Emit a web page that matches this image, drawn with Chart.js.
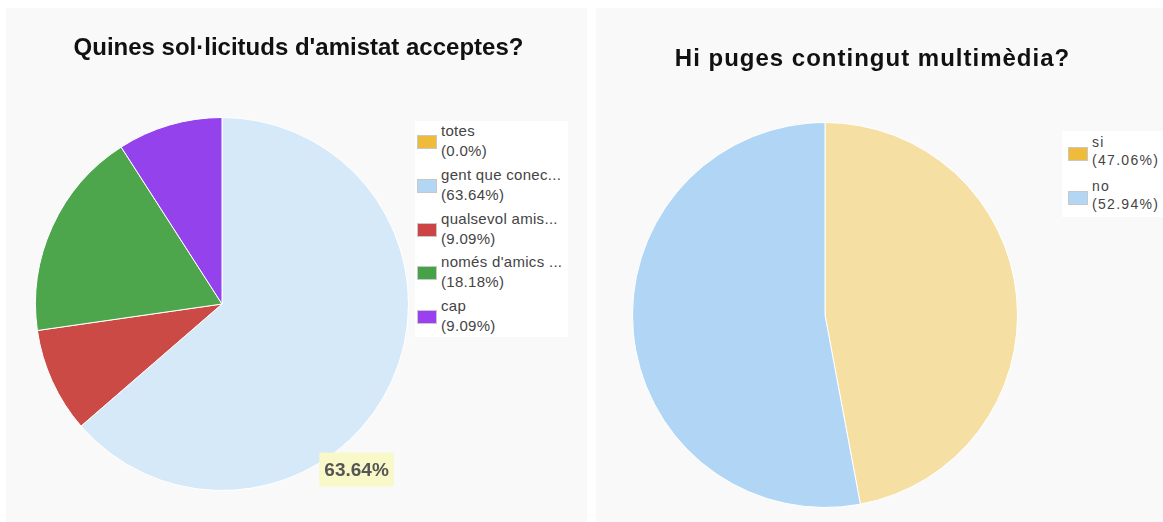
<!DOCTYPE html>
<html>
<head>
<meta charset="utf-8">
<script src="https://cdn.jsdelivr.net/npm/chart.js@4/dist/chart.umd.min.js"></script>
<style>
  body { margin: 0; background: #fff; font-family: "Liberation Sans", Arial, sans-serif; }
  .panel { position: absolute; top: 8px; height: 514px; background: #f9f9f9; }
  .panel canvas { position: absolute; left: 0; top: 0; }
  .title { position: absolute; text-align: center; font-weight: bold; font-size: 24px; line-height: 30px; color: #111; }
  .legend { position: absolute; background: #fff; }
  .entry { position: absolute; left: 0; right: 0; color: #444; white-space: nowrap; }
  .swatch { position: absolute; width: 20px; height: 14px; border: 1px solid #c8c8c8; box-sizing: border-box; }
</style>
</head>
<body>

<div class="panel" id="panelA" style="left:6px; width:581px;"><canvas id="chartA"></canvas></div>
<div class="panel" id="panelB" style="left:596px; width:567px;"><canvas id="chartB"></canvas></div>

<div class="title" style="left:0; width:597px; top:32px;">Quines sol·licituds d'amistat acceptes?</div>
<div class="title" style="left:597px; width:551px; top:43px; letter-spacing:1px;">Hi puges contingut multimèdia?</div>

<div class="legend" id="legendA" style="left:415px; top:121px; width:153px; height:216px;"></div>
<div class="legend" id="legendB" style="left:1062px; top:131px; width:101px; height:86px;"></div>

<script>
// sol·licituds d'amistat
const friendLabels = ["totes", "gent que conec...", "qualsevol amis...", "només d'amics ...", "cap"];
const friendPct = [0, 63.64, 9.09, 18.18, 9.09];
const friendSlice = ["#f5dfa2", "#d6e9f9", "#cc4a45", "#4da64b", "#9342ec"];
const friendSwatch = ["#eebc3a", "#b3d6f5", "#cc4444", "#46a246", "#9a40f0"];

// contingut multimèdia
const mediaLabels = ["si", "no"];
const mediaPct = [47.06, 52.94];
const mediaSlice = ["#f5dfa2", "#b1d6f5"];
const mediaSwatch = ["#eebc3a", "#b3d6f5"];

function fmtPct(v) {
  return "(" + (v === 0 ? "0.0" : v.toFixed(2)) + "%)";
}

function buildLegend(id, labels, values, swatches, opt) {
  const box = document.getElementById(id);
  labels.forEach((name, i) => {
    const e = document.createElement("div");
    e.className = "entry";
    e.style.top = (opt.top + opt.step * i) + "px";
    e.style.fontSize = opt.fontSize + "px";
    e.style.lineHeight = opt.lineHeight + "px";
    e.style.paddingLeft = opt.textLeft + "px";
    e.style.letterSpacing = opt.spacing + "px";
    e.innerHTML = `<div class="swatch" style="left:${opt.swLeft}px; top:${opt.swTop}px; background:${swatches[i]}"></div>${name}<br>${fmtPct(values[i])}`;
    box.appendChild(e);
  });
}

buildLegend("legendA", friendLabels, friendPct, friendSwatch,
  { top: 0, step: 43.8, fontSize: 15, lineHeight: 20, textLeft: 26, swLeft: 2, swTop: 14, spacing: 0.3 });
buildLegend("legendB", mediaLabels, mediaPct, mediaSwatch,
  { top: 2, step: 44, fontSize: 14, lineHeight: 18, textLeft: 30, swLeft: 6, swTop: 14, spacing: 1.3 });

// value box for the hovered slice
const sliceLabel = {
  id: "sliceLabel",
  afterDatasetsDraw(chart, args, opts) {
    if (opts.index == null) return;
    const arc = chart.getDatasetMeta(0).data[opts.index];
    const v = chart.data.datasets[0].data[opts.index];
    const a = opts.angle * Math.PI / 180;
    const cx = arc.x + Math.cos(a) * arc.outerRadius * opts.dist;
    const cy = arc.y + Math.sin(a) * arc.outerRadius * opts.dist;
    const ctx = chart.ctx;
    ctx.save();
    ctx.font = "bold 19px 'Liberation Sans', Arial, sans-serif";
    const text = v.toFixed(2) + "%";
    const w = ctx.measureText(text).width + 10;
    const h = 34;
    ctx.fillStyle = "#f8f8c8";
    ctx.fillRect(cx - w / 2, cy - h / 2, w, h);
    ctx.fillStyle = "#555555";
    ctx.textAlign = "center";
    ctx.textBaseline = "middle";
    ctx.fillText(text, cx, cy + 1);
    ctx.restore();
  }
};

function makePie(id, labels, values, colors, padding, labelOpts) {
  return new Chart(document.getElementById(id), {
    type: "pie",
    data: {
      labels,
      datasets: [{
        data: values,
        backgroundColor: colors,
        borderColor: "#ffffff",
        borderWidth: 1,
      }],
    },
    options: {
      responsive: true,
      maintainAspectRatio: false,
      animation: false,
      events: [],
      layout: { padding },
      plugins: {
        legend: { display: false },
        tooltip: { enabled: false },
        sliceLabel: labelOpts,
      },
    },
    plugins: [sliceLabel],
  });
}

makePie("chartA", friendLabels, friendPct, friendSlice,
  { left: 29, top: 109, right: 178, bottom: 31 },
  { index: 1, angle: 50.9, dist: 1.144 });
makePie("chartB", mediaLabels, mediaPct, mediaSlice,
  { left: 36, top: 114, right: 145, bottom: 14 },
  {});
</script>
</body>
</html>
